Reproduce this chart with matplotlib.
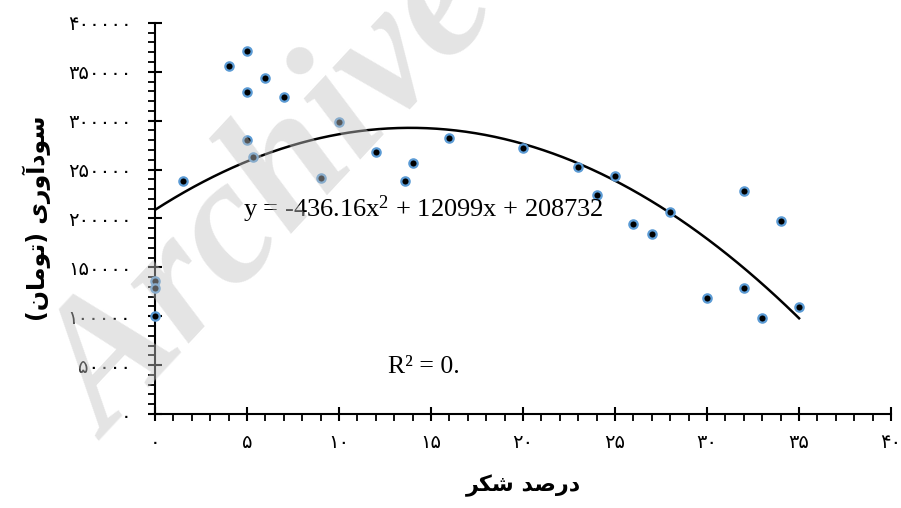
import matplotlib
matplotlib.use('Agg')
import matplotlib.pyplot as plt
from matplotlib.ticker import MultipleLocator, FuncFormatter
import numpy as np

plt.rcParams['font.family'] = ['DejaVu Sans']
plt.rcParams['mathtext.fontset'] = 'custom'
plt.rcParams['mathtext.rm'] = 'Liberation Serif'
plt.rcParams['mathtext.it'] = 'Liberation Serif'

# data
sugar_pct = [0, 0, 0, 1.5, 4, 5, 5, 5, 5.3, 6, 7, 9, 10, 12, 13.6, 14, 16,
             20, 23, 24, 25, 26, 27, 28, 30, 32, 32, 33, 34, 35]
profit = [100000, 136000, 128500, 238700, 356300, 371000, 329700, 279900, 262900,
          343700, 323900, 241000, 298300, 267600, 238700, 257100, 282700,
          271800, 252700, 223600, 243100, 194400, 184500, 206600, 119000,
          228400, 128500, 97800, 197700, 109500]
trend_coef = [-436.16, 12099, 208732]
trend_text = 'y = -436.16x$^\\mathrm{2}$ + 12099x + 208732'
r2_text = 'R² = 0.'

# Persian labels, pre-shaped in visual order (matplotlib has no bidi)
xlabel = '\uFEAE\uFB91\uFEB7 \uFEAA\uFEBB\uFEAD\uFEA9'          # درصد شکر
ylabel = '(\uFEE5\uFE8E\uFEE3\uFEEE\uFE97) \uFBFC\uFEAD\uFEED\uFE81\uFEA9\uFEEE\uFEB3'  # سودآوری (تومان)

FA = '۰۱۲۳۴۵۶۷۸۹'
def fa_num(v, pos=None):
    s = str(int(round(v)))
    return ''.join(FA[int(c)] if c.isdigit() else c for c in s)

fig = plt.figure(figsize=(9.01, 5.08), dpi=100)
ax = fig.add_axes([0.172, 0.185, 0.817, 0.77])

ax.plot(sugar_pct, profit, 'o', ms=6, mfc='black', mec='#5B9BD5', mew=1.6,
        zorder=3, clip_on=False)

xs = np.linspace(0, 35, 200)
ax.plot(xs, np.polyval(trend_coef, xs), color='black', lw=1.8, zorder=2)

ax.set_xlim(0, 40)
ax.set_ylim(0, 400000)
ax.xaxis.set_major_locator(MultipleLocator(5))
ax.xaxis.set_minor_locator(MultipleLocator(1))
ax.yaxis.set_major_locator(MultipleLocator(50000))
ax.yaxis.set_minor_locator(MultipleLocator(10000))
ax.xaxis.set_major_formatter(FuncFormatter(fa_num))
ax.yaxis.set_major_formatter(FuncFormatter(fa_num))

for s in ['top', 'right']:
    ax.spines[s].set_visible(False)
for s in ['left', 'bottom']:
    ax.spines[s].set_linewidth(1.5)
ax.tick_params(which='major', direction='inout', length=10, width=1.5,
               labelsize=14, pad=12)
ax.tick_params(axis='x', which='major', pad=9)
ax.tick_params(which='minor', direction='out', length=5, width=1.3)

ax.set_xlabel(xlabel, fontsize=16, fontweight='bold', labelpad=16)
ax.set_ylabel(ylabel, fontsize=17, fontweight='bold', labelpad=12)

ax.text(4.8, 201800, trend_text, fontsize=19, family='Liberation Serif',
        va='baseline', ha='left')
ax.text(12.66, 42000, r2_text, fontsize=18.5, family='Liberation Serif',
        va='baseline', ha='left')

# watermark
fig.text(0.305, 0.61, 'Archive', fontsize=130, family='Liberation Serif',
         fontweight='bold', style='italic', color='#c4c4c4', alpha=0.45,
         rotation=47, ha='center', va='center', zorder=10)

plt.savefig('out.png', dpi=100)
